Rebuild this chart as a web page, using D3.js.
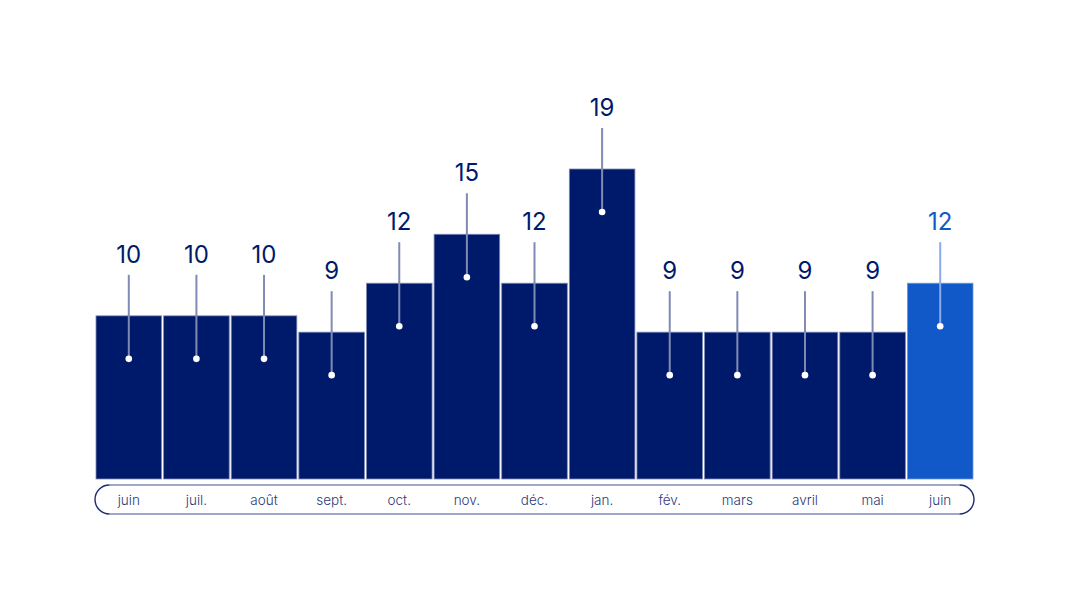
<!DOCTYPE html>
<html>
<head>
<meta charset="utf-8">
<script src="https://cdn.jsdelivr.net/npm/d3@7"></script>
<style>
  body { margin: 0; background: #fff; }
  svg { display: block; font-family: Inter, "Noto Sans", sans-serif; }
</style>
</head>
<body>
<svg id="vis" width="1066" height="595"></svg>
<script>
// monthly values, last month highlighted
var months = ["juin", "juil.", "août", "sept.", "oct.", "nov.", "déc.", "jan.", "fév.", "mars", "avril", "mai", "juin"];
var values = [10, 10, 10, 9, 12, 15, 12, 19, 9, 9, 9, 9, 12];
var highlight = [false, false, false, false, false, false, false, false, false, false, false, false, true];

var navy = "#001a6b";
var blue = "#1158c9";
var lineCol = "#7f8bb5";

var vis = d3.select("#vis");
var data = months.map((m, i) => ({ key: i, month: m, value: values[i], hi: highlight[i] }));

var x = d3.scaleBand()
    .domain(data.map(d => d.key))
    .range([96, 973])
    .paddingInner(0.03)
    .paddingOuter(0.0);

// 0 sits at y=479, 19 reaches y=169
var y = d3.scaleLinear()
    .domain([0, 19])
    .range([479, 169]);

// bars
vis.selectAll(".bar").data(data).enter().append("rect")
    .attr("class", "bar")
    .attr("x", d => x(d.key))
    .attr("y", d => y(d.value))
    .attr("width", x.bandwidth())
    .attr("height", d => y(0) - y(d.value))
    .attr("fill", d => d.hi ? blue : navy)
    .attr("stroke", d => d.hi ? "#6f98de" : "#7f8bb5")
    .attr("stroke-width", 0.8);

// leader lines + dots + value labels
var lab = vis.selectAll(".lab").data(data).enter().append("g")
    .attr("class", "lab")
    .attr("transform", d => `translate(${x(d.key) + x.bandwidth() / 2} ${y(d.value)})`);

lab.append("line")
    .attr("y1", -41)
    .attr("y2", 43)
    .attr("stroke", d => d.hi ? "#8aacec" : lineCol)
    .attr("stroke-width", 2);

lab.append("circle")
    .attr("cy", 43)
    .attr("r", 3.3)
    .attr("fill", "#fff");

lab.append("text")
    .attr("y", -53)
    .attr("text-anchor", "middle")
    .attr("font-size", "24px")
    .attr("font-weight", 400)
    .attr("fill", d => d.hi ? blue : navy)
    .text(d => d.value);

// pill-shaped axis
var px0 = 95, px1 = 974, py0 = 485, py1 = 514, r = (py1 - py0) / 2;
vis.append("line")
    .attr("x1", px0 + r).attr("x2", px1 - r)
    .attr("y1", py0).attr("y2", py0)
    .attr("stroke", lineCol).attr("stroke-width", 1.6);
vis.append("line")
    .attr("x1", px0 + r).attr("x2", px1 - r)
    .attr("y1", py1).attr("y2", py1)
    .attr("stroke", lineCol).attr("stroke-width", 1.6);
vis.append("path")
    .attr("d", `M${px0 + r},${py0} A${r},${r} 0 0 0 ${px0 + r},${py1}`)
    .attr("fill", "none").attr("stroke", "#1c2a72").attr("stroke-width", 1.4);
vis.append("path")
    .attr("d", `M${px1 - r},${py0} A${r},${r} 0 0 1 ${px1 - r},${py1}`)
    .attr("fill", "none").attr("stroke", "#1c2a72").attr("stroke-width", 1.4);

vis.selectAll(".tick-lab").data(data).enter().append("text")
    .attr("class", "tick-lab")
    .attr("x", d => x(d.key) + x.bandwidth() / 2)
    .attr("y", 505)
    .attr("text-anchor", "middle")
    .attr("font-size", "13.5px")
    .attr("font-weight", 300)
    .attr("fill", "#2c3a78")
    .text(d => d.month);
</script>
</body>
</html>
